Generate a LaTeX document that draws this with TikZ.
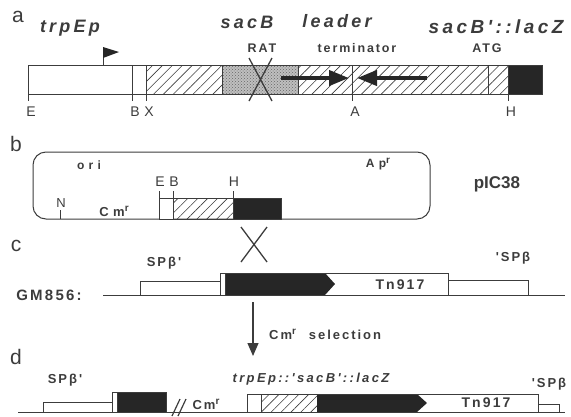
\documentclass[tikz,border=0pt]{standalone}
\usepackage{fontspec}
\setsansfont{Liberation Sans}
\newfontfamily\headfont[LetterSpace=18]{Liberation Sans}
\newfontfamily\labfont[LetterSpace=15]{Liberation Sans}
\newfontfamily\widefont[LetterSpace=35]{Liberation Sans}
\newcommand\resmark{\raisebox{0.75ex}{\fontsize{10}{10}\selectfont r}}
\usetikzlibrary{arrows.meta, positioning, patterns, patterns.meta}
\definecolor{figink}{HTML}{3C3C3C}
\definecolor{figdark}{HTML}{262626}
\tikzset{
  gene/.style={draw=figink, line width=1pt},
  plainbox/.style={gene, fill=white},
  hatchbox/.style={gene, pattern={Lines[angle=45, distance=7pt, line width=0.6pt]}, pattern color=figink},
  stipplebox/.style={gene, preaction={fill=black!25}, pattern=crosshatch dots, pattern color=black!60},
  darkbox/.style={gene, fill=figdark},
  crossline/.style={draw=figink, line width=1.3pt},
  panel/.style={font=\sffamily\fontsize{21}{21}\selectfont, text=figink, inner sep=0pt},
  title/.style={font=\headfont\bfseries\itshape\fontsize{18}{18}\selectfont, text=figink, inner sep=0pt},
  lab/.style={font=\labfont\bfseries\fontsize{12.5}{12.5}\selectfont, text=figink, inner sep=0pt},
  widelab/.style={font=\widefont\bfseries\fontsize{12}{12}\selectfont, text=figink, inner sep=0pt},
  site/.style={font=\sffamily\fontsize{14}{14}\selectfont, text=figink, inner sep=0pt},
  hairpin/.style={line width=4pt, figdark, -{Triangle[length=20pt, width=15pt]}},
  selarrow/.style={line width=1.2pt, figink, -{Triangle[length=13pt, width=11pt]}},
}

\begin{document}
\begin{tikzpicture}[x=1pt, y=-1pt]
  \useasboundingbox (0,0) rectangle (571,416);
  % a: trpE promoter fused to the sacB leader
  \node[panel] (pa) at (18,17) {a};
  \node[title] (trp) at (70,28) {trpEp};
  \node[title] (sacb) at (247,22) {sacB};
  \node[title] (leader) at (337,21) {leader};
  \node[title, font=\headfont\bfseries\itshape\fontsize{19}{19}\selectfont] (fus) at (496,27) {sacB'::lacZ};
  \draw[gene] (103,65) -- (103,47);
  \fill[figdark] (103,47) -- (119,52) -- (103,58) -- cycle;
  \fill[white] (28,65) rectangle (146,94);
  \path[hatchbox, draw=none] (146,65) rectangle (222,94);
  \path[stipplebox, draw=none] (222,65) rectangle (298,94);
  \path[hatchbox, draw=none] (298,65) rectangle (508,94);
  \path[darkbox] (508,65) rectangle (542,94);
  \draw[gene] (28,65) rectangle (542,94);
  \draw[gene] (222,65) -- (222,94) (298,65) -- (298,94) (488,65) -- (488,94);
  \foreach \x/\t in {28/E, 132/B, 146/X, 352/A, 508/H} {
    \draw[gene] (\x,65) -- (\x,101);
    \node[site] (a\t) at (\x+3,112) {\t};
  }
  \node[lab] (rat) at (262,48) {RAT};
  \node[lab] (term) at (357,48) {terminator};
  \node[lab] (atg) at (487,48) {ATG};
  \draw[crossline] (249,58) -- (272,101) (272,58) -- (249,101);
  \coordinate (stemL) at (281,78);
  \coordinate (stemLtip) at (349,78);
  \coordinate (stemR) at (427,78);
  \coordinate (stemRtip) at (357,78);
  \draw[hairpin] (stemL) -- (stemLtip);
  \draw[hairpin] (stemR) -- (stemRtip);

  % b: plasmid pIC38
  \node[panel] (pb) at (16,144) {b};
  \draw[gene, rounded corners=13pt] (33,152) rectangle (430,219);
  \node[widelab] (ori) at (89,165) {ori};
  \node[widelab] (apr) at (378,164) {Ap\resmark};
  \node[font=\sffamily\bfseries\fontsize{17}{17}\selectfont, text=figink, inner sep=0pt] (pic) at (497,184) {pIC38};
  \draw[gene] (60,219) -- (60,210);
  \node[site, font=\sffamily\fontsize{13}{13}\selectfont] (bN) at (61,203) {N};
  \node[widelab, font=\widefont\bfseries\fontsize{13}{13}\selectfont] (bcm) at (114,211) {Cm\resmark};
  \path[plainbox] (159,198) rectangle (173,219);
  \path[hatchbox] (173,198) rectangle (233,219);
  \path[darkbox] (233,198) rectangle (281,219);
  \foreach \x/\t in {159/E, 173/B, 233/H} {
    \draw[gene] (\x,198) -- (\x,191);
    \node[site] (b\t) at (\x+1,182) {\t};
  }
  \draw[crossline] (241,227) -- (267,262) (267,227) -- (241,262);

  % c: SPbeta prophage with Tn917 in GM856
  \node[panel] (pc) at (16,246) {c};
  \node[lab, font=\labfont\bfseries\fontsize{15}{15}\selectfont] (gm) at (49,295) {GM856:};
  \draw[gene] (103,295) -- (565,295);
  \path[plainbox] (140,281) rectangle (220,295);
  \path[plainbox] (220,273) rectangle (225,295);
  \fill[figdark] (225,273) -- (325,273) -- (335,284) -- (325,295) -- (225,295) -- cycle;
  \draw[gene] (225,273) rectangle (448,295);
  \path[plainbox] (448,280) rectangle (528,295);
  \node[lab, font=\labfont\bfseries\fontsize{14}{14}\selectfont] (tnc) at (400,285) {Tn917};
  \node[lab, font=\labfont\bfseries\fontsize{13}{13}\selectfont] (spc) at (164,263) {SPβ'};
  \node[lab, font=\labfont\bfseries\fontsize{13}{13}\selectfont] (spcr) at (513,258) {'SPβ};

  \coordinate (selTop) at (253,302);
  \coordinate (selBot) at (253,356);
  \draw[selarrow] (selTop) -- (selBot);
  \node[lab, anchor=west, font=\labfont\bfseries\fontsize{13}{13}\selectfont] (sel) at (269,334) {Cm\resmark\quad selection};

  % d: recombinant carrying trpEp::'sacB'::lacZ
  \node[panel] (pd) at (16,357) {d};
  \draw[gene] (18,412) -- (565,412);
  \path[plainbox] (43,402) rectangle (112,412);
  \path[plainbox] (112,392) rectangle (117,412);
  \path[darkbox] (117,392) rectangle (166,412);
  \draw[gene, line width=1.2pt] (172,416) -- (180,399) (178,416) -- (186,399);
  \node[lab, font=\labfont\bfseries\fontsize{13}{13}\selectfont] (dcm) at (206,404) {Cm\resmark};
  \path[plainbox] (247,394) rectangle (261,412);
  \path[hatchbox] (261,394) rectangle (317,412);
  \fill[figdark] (317,394) -- (417,394) -- (427,403) -- (417,412) -- (317,412) -- cycle;
  \draw[gene] (247,394) rectangle (538,412);
  \path[plainbox] (538,404) rectangle (559,412);
  \node[lab, font=\labfont\bfseries\fontsize{14}{14}\selectfont] (tnd) at (486,403) {Tn917};
  \node[lab, font=\labfont\bfseries\fontsize{13}{13}\selectfont] (spd) at (65,380) {SPβ'};
  \node[lab, font=\labfont\bfseries\fontsize{13}{13}\selectfont] (spdr) at (549,384) {'SPβ};
  \node[title, font=\headfont\bfseries\itshape\fontsize{13}{13}\selectfont] (fusd) at (311,379) {trpEp::'sacB'::lacZ};
\end{tikzpicture}
\end{document}
